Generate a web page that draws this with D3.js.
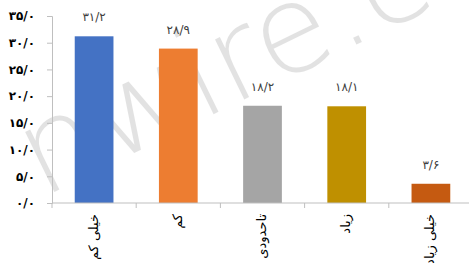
<!DOCTYPE html>
<html>
<head>
<meta charset="utf-8">
<script src="https://cdn.jsdelivr.net/npm/d3@7"></script>
<style>
  body { margin: 0; background: #fff; }
  svg { display: block; }
  text { font-family: 'DejaVu Sans', sans-serif; }
</style>
</head>
<body>
<svg width="469" height="263"></svg>
<script>
// Data.
const categories = ['خیلی کم', 'کم', 'تاحدودی', 'زیاد', 'خیلی زیاد'];
const values = [31.2, 28.9, 18.2, 18.1, 3.6];
const colors = ['#4472C4', '#ED7D31', '#A5A5A5', '#BF9000', '#C55A11'];
const yTicks = [0, 5, 10, 15, 20, 25, 30, 35];

// Persian digits, slash as decimal mark.
const fa = s => s.replace(/\./g, '/').replace(/\d/g, d => '۰۱۲۳۴۵۶۷۸۹'[d]);

const width = 469;
const height = 263;
const svg = d3.select('svg');

// Scales.
const x = d3.scaleBand()
  .domain(categories)
  .range([52, 473])
  .paddingInner(0.54)
  .paddingOuter(0.27);
const y = d3.scaleLinear().domain([0, 35]).range([203, 16]);

// Watermark.
svg.append('text')
  .attr('transform', 'translate(42,198) rotate(-26)')
  .attr('font-size', 122)
  .attr('font-family', 'DejaVu Sans, sans-serif')
  .attr('font-weight', 200)
  .attr('fill', '#000')
  .attr('opacity', 0.11)
  .text('nwire.co');

// Bars.
svg.append('g')
  .selectAll('rect')
  .data(values)
  .join('rect')
  .attr('x', (d, i) => x(categories[i]))
  .attr('y', d => y(d))
  .attr('width', x.bandwidth())
  .attr('height', d => y(0) - y(d))
  .attr('fill', (d, i) => colors[i]);

// Value labels.
svg.append('g')
  .selectAll('text')
  .data(values)
  .join('text')
  .attr('x', (d, i) => x(categories[i]) + x.bandwidth() / 2)
  .attr('y', d => y(d) - 15)
  .attr('text-anchor', 'middle')
  .attr('font-size', 12)
  .attr('fill', '#404040')
  .text(d => fa(d3.format('.1f')(d)));

// Y axis.
const yAxis = svg.append('g')
  .attr('transform', 'translate(52,0)')
  .call(d3.axisLeft(y).tickValues(yTicks).tickSize(5).tickPadding(12)
    .tickFormat(d => fa(d3.format('.1f')(d))));
yAxis.select('.domain').attr('stroke', '#bfbfbf');
yAxis.selectAll('.tick line').attr('stroke', '#bfbfbf');
yAxis.selectAll('.tick text')
  .attr('font-size', 12)
  .attr('font-weight', 'bold')
  .attr('fill', '#000')
  .attr('font-family', 'DejaVu Sans, sans-serif');

// X axis.
const xAxis = svg.append('g')
  .attr('transform', `translate(0,${y(0)})`);
xAxis.append('line')
  .attr('x1', 52).attr('x2', width)
  .attr('stroke', '#bfbfbf');
const edges = categories.map(c => x(c) - x.step() * x.paddingInner() / 2);
xAxis.selectAll('.edge')
  .data(edges)
  .join('line')
  .attr('class', 'edge')
  .attr('x1', d => d).attr('x2', d => d)
  .attr('y1', 0).attr('y2', 5)
  .attr('stroke', '#bfbfbf');

// Category labels, rotated.
svg.append('g')
  .selectAll('text')
  .data(categories)
  .join('text')
  .attr('transform', d => `translate(${x(d) + x.bandwidth() / 2},214) rotate(-90)`)
  .attr('text-anchor', 'end')
  .attr('dominant-baseline', 'middle')
  .attr('font-size', 13)
  .attr('fill', '#000')
  .text(d => d);
</script>
</body>
</html>
